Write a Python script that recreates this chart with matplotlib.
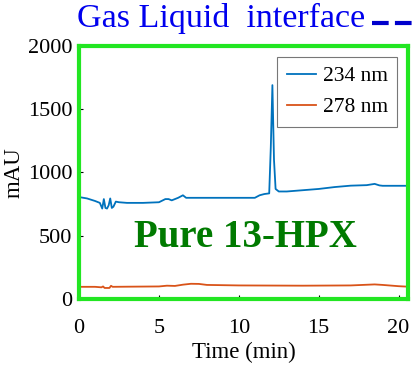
import matplotlib.pyplot as plt
from matplotlib.lines import Line2D

plt.rcParams['font.family'] = ['Liberation Serif', 'DejaVu Serif']

# 234 nm trace (blue)
t_234 = [0, 0.5, 1.0, 1.3, 1.45, 1.55, 1.65, 1.75, 1.85, 1.95, 2.05, 2.15, 2.3, 2.5, 3, 4, 5,
         5.4, 5.6, 5.8, 6.0, 6.2, 6.5, 6.7, 7, 8, 9, 10, 11, 11.3, 11.6, 11.9, 12.0, 12.1,
         12.2, 12.3, 12.5, 13, 14, 15, 16, 17, 18, 18.5, 18.8, 19, 20, 20.6]
mau_234 = [806, 795, 775, 760, 715, 790, 720, 715, 740, 795, 720, 730, 770, 765, 760, 760, 765,
           790, 790, 780, 790, 800, 820, 800, 800, 800, 800, 800, 800, 820, 830, 835, 1200, 1690,
           1100, 870, 850, 850, 860, 870, 885, 896, 900, 910, 898, 895, 895, 895]

# 278 nm trace (orange)
t_278 = [0, 1, 1.4, 1.5, 1.6, 1.9, 2.0, 2.1, 3, 5, 5.5, 6, 6.5, 7, 7.5, 8, 10, 14, 17, 18.5,
         19, 20, 20.6]
mau_278 = [97, 97, 93, 100, 88, 88, 105, 97, 98, 100, 106, 104, 114, 121, 120, 112, 108, 106,
           108, 116, 112, 102, 98]

x_ticks = [0, 5, 10, 15, 20]
y_ticks = [0, 500, 1000, 1500, 2000]

fig = plt.figure(figsize=(4.14, 3.67), dpi=100)
ax = fig.add_axes([0.191, 0.185, 0.795, 0.69])

ax.plot(t_234, mau_234, color='#0072BD', lw=1.3, label='234 nm')
ax.plot(t_278, mau_278, color='#D95319', lw=1.3, label='278 nm')

ax.set_xlim(0, 20.6)
ax.set_ylim(0, 2000)
ax.set_xticks(x_ticks)
ax.set_yticks(y_ticks)
ax.tick_params(direction='in', labelsize=16, length=3)
ax.tick_params(axis='x', pad=14)
ax.tick_params(axis='y', pad=5)
ax.set_xlabel('Time (min)', fontsize=16.5, labelpad=3)
ax.set_ylabel('mAU', fontsize=16.5)
ax.yaxis.set_label_coords(-0.165, 0.5)

for s in ax.spines.values():
    s.set_color('#22e622')
    s.set_linewidth(3)

leg = ax.legend(loc='upper right', fontsize=15.5, frameon=True, fancybox=False,
                edgecolor='#555555', handlelength=1.35, handletextpad=0.3,
                borderaxespad=0.5, labelspacing=0.5, borderpad=0.45)
leg.get_frame().set_linewidth(0.8)

ax.text(10.4, 490, 'Pure 13-HPX', color='#007a00', fontsize=28, fontweight='bold',
        ha='center', va='center')

fig.text(0.186, 1 - 27 / 367, 'Gas Liquid  interface', color='#0000ee', fontsize=24.5,
         va='baseline')
fig.add_artist(Line2D([372 / 414, 1.0], [1 - 23 / 367, 1 - 23 / 367], color='#0000cc',
                      lw=3, ls=(0, (4, 1.5)), transform=fig.transFigure))

fig.savefig('out.png', dpi=100)
